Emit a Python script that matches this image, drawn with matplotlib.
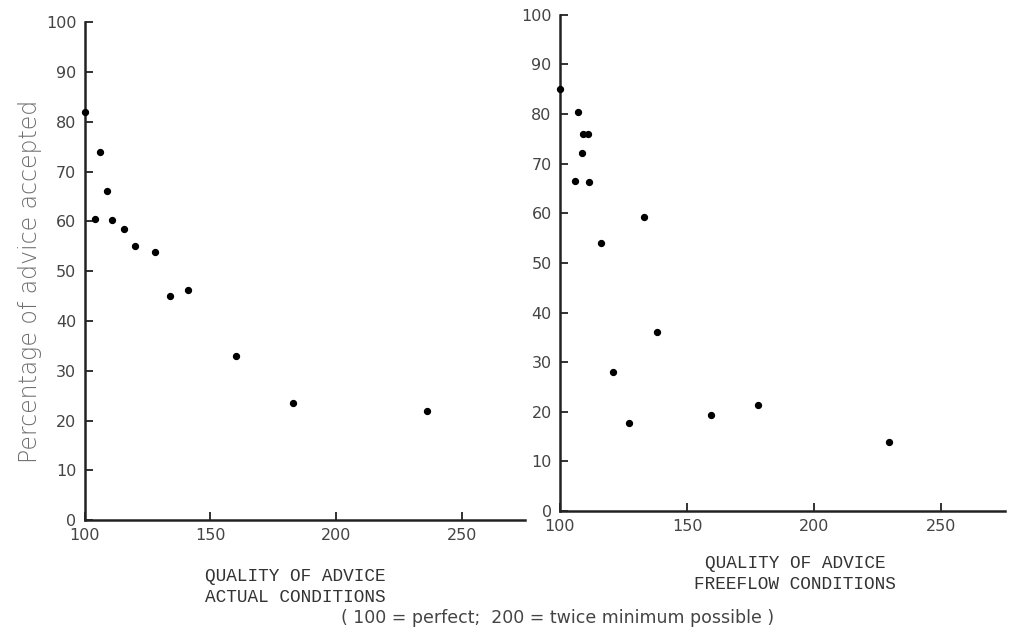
import matplotlib
matplotlib.use("Agg")
from matplotlib import pyplot as plt

# Left panel: actual conditions
actual_quality = [100, 106, 104, 109, 111, 115.5, 120, 128, 134, 141, 160, 183, 236]
actual_accepted = [82, 74, 60.5, 66, 60.3, 58.4, 55, 53.8, 45, 46.3, 33, 23.5, 22]

# Right panel: freeflow conditions
freeflow_quality = [100, 107, 109, 111, 108.5, 106, 111.3, 133, 116, 138, 121, 127, 159.5, 178, 229.5]
freeflow_accepted = [85, 80.4, 76, 76, 72.1, 66.5, 66.4, 59.3, 54, 36, 28, 17.8, 19.4, 21.3, 14]

x_ticks = [100, 150, 200, 250]
y_ticks = [0, 10, 20, 30, 40, 50, 60, 70, 80, 90, 100]

fig = plt.figure(figsize=(10.09, 6.32), dpi=100)

ax1 = fig.add_axes([0.084, 0.177, 0.436, 0.788])
ax2 = fig.add_axes([0.555, 0.1915, 0.441, 0.785])

for ax, xs, ys in [(ax1, actual_quality, actual_accepted), (ax2, freeflow_quality, freeflow_accepted)]:
    ax.scatter(xs, ys, s=18, color="black", zorder=3, clip_on=False)
    ax.set_xlim(100, 275)
    ax.set_ylim(0, 100)
    ax.set_xticks(x_ticks)
    ax.set_yticks(y_ticks)
    for side in ["top", "right"]:
        ax.spines[side].set_visible(False)
    for side in ["left", "bottom"]:
        ax.spines[side].set_linewidth(1.8)
        ax.spines[side].set_color("#222222")
    ax.tick_params(direction="in", length=6, width=1.3, color="#222222",
                   labelsize=11.5, labelcolor="#444444", pad=6)

ax1.set_ylabel("Percentage of advice accepted", fontsize=17, color="#6e6e6e",
               fontweight="light")
ax1.yaxis.set_label_coords(-0.097, 0.48)

fig.text(0.293, 0.071, "QUALITY OF ADVICE\nACTUAL CONDITIONS", ha="center", va="center",
         family="Liberation Mono", fontsize=12.8, color="#333333", linespacing=1.3)
fig.text(0.788, 0.092, "QUALITY OF ADVICE\nFREEFLOW CONDITIONS", ha="center", va="center",
         family="Liberation Mono", fontsize=12.8, color="#333333", linespacing=1.3)
fig.text(0.553, 0.022, "( 100 = perfect;  200 = twice minimum possible )", ha="center", va="center",
         fontsize=12.5, color="#444444")

fig.savefig("out.png", dpi=100)
